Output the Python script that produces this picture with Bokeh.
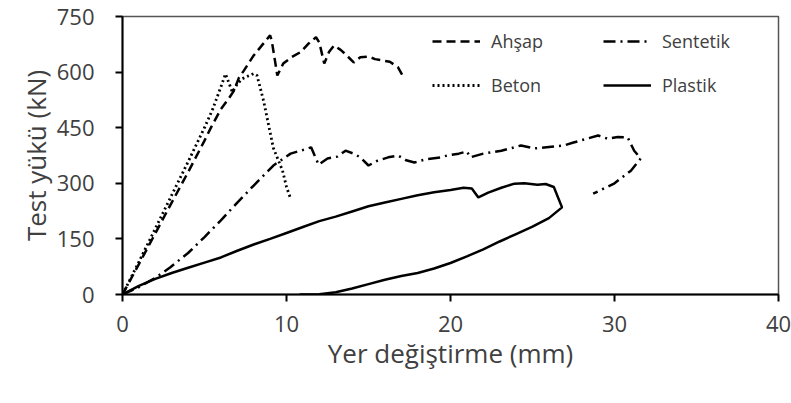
from bokeh.plotting import figure
from bokeh.models import Range1d, FixedTicker, Legend, LegendItem
from bokeh.embed import file_html
from bokeh.resources import INLINE

# ---- data ----
ahsap_x = [0, 1, 2, 3, 4, 5, 5.4, 6.0, 6.5, 6.8, 7.1, 7.4, 8.0, 8.5, 9.0, 9.1, 9.44, 9.8, 10.3, 10.86,
           11.3, 11.8, 12.0, 12.3, 12.6, 12.9, 13.3, 13.6, 14.1, 14.5, 15.0, 15.4, 15.9, 16.3, 16.8, 17.15]
ahsap_y = [0, 82, 165, 248, 330, 415, 451, 500, 530, 550, 585, 604, 645, 672, 699, 685, 591, 623, 640, 654,
           675, 694, 680, 623, 655, 672, 660, 648, 626, 640, 642, 635, 631, 628, 613, 585]

beton_x = [0, 1, 2, 3, 4, 5, 5.5, 6.0, 6.28, 6.7, 7.0, 7.3, 7.7, 8.0, 8.2, 8.6, 9.2, 9.76, 10.0, 10.25]
beton_y = [0, 88, 178, 268, 358, 450, 500, 560, 595, 546, 568, 582, 590, 596, 591, 523, 395, 334, 290, 259]

sentetik_x = [0, 1, 2, 2.9, 4, 5, 6, 7, 8, 9.2, 10.25, 11.0, 11.5, 11.96, 12.5, 13.1, 13.6, 14.1, 14.5,
              15.0, 15.5, 16.2, 16.8, 17.3, 17.8, 18.5, 19.4, 19.8, 20.5, 21.0, 21.2, 22.0, 23.1, 24.3,
              25.1, 26.0, 26.9, 27.5, 28.3, 29.0, 29.6, 30.2, 30.8, 31.2, 31.6, 31.0, 30.0, 28.7]
sentetik_y = [0, 20, 45, 73, 112, 155, 200, 248, 294, 348, 380, 390, 397, 350, 367, 372, 388, 380, 370,
              348, 360, 370, 375, 362, 356, 365, 370, 375, 380, 386, 370, 380, 388, 402,
              394, 398, 402, 410, 420, 429, 420, 425, 424, 388, 367, 334, 300, 272]

plastik_x = [0, 1, 2, 3, 4, 5, 6, 7, 8, 9, 10, 11, 12, 13, 14, 15, 16, 17, 18, 19, 20, 20.8, 21.3, 21.7,
             22.3, 23.1, 23.9, 24.5, 25.3, 25.8, 26.3, 26.8, 26.0, 25.0, 24.0, 23.0, 22.0, 21.0, 20.0,
             19.0, 18.0, 17.0, 16.0, 15.0, 14.0, 13.0, 12.0, 10.8]
plastik_y = [0, 23, 42, 58, 72, 86, 100, 118, 135, 150, 166, 182, 198, 210, 224, 238, 248, 258, 268, 276,
             282, 288, 286, 262, 275, 288, 299, 300, 296, 298, 290, 235, 206, 183, 163, 143, 122, 103, 85,
             70, 58, 50, 40, 28, 16, 6, 1, 0]

x_ticks = [0, 10, 20, 30, 40]
y_ticks = [0, 150, 300, 450, 600, 750]

FONT = "Open Sans"
TXT = "#404040"

p = figure(width=791, height=403, output_backend="svg", toolbar_location=None,
           x_range=Range1d(0, 40), y_range=Range1d(0, 750),
           min_border_left=122, min_border_right=13, min_border_top=16, min_border_bottom=109)

p.grid.visible = False
p.background_fill_color = "white"
p.border_fill_color = "white"
p.outline_line_color = "#555555"
p.outline_line_width = 1.5

for ax in (p.xaxis[0], p.yaxis[0]):
    ax.axis_line_color = "black"
    ax.axis_line_width = 2
    ax.major_tick_line_color = "black"
    ax.major_tick_line_width = 2
    ax.major_tick_out = 7
    ax.major_tick_in = 0
    ax.minor_tick_line_color = None
    ax.major_label_text_font = FONT
    ax.major_label_text_font_size = "22px"
    ax.major_label_text_color = TXT
    ax.axis_label_text_font = FONT
    ax.axis_label_text_font_size = "26px"
    ax.axis_label_text_color = TXT
    ax.axis_label_text_font_style = "normal"

p.xaxis.ticker = FixedTicker(ticks=x_ticks)
p.yaxis.ticker = FixedTicker(ticks=y_ticks)
p.xaxis.axis_label = "Yer değiştirme (mm)"
p.yaxis.axis_label = "Test yükü (kN)"
p.xaxis.major_label_standoff = 14
p.yaxis.major_label_standoff = 21
p.xaxis.axis_label_standoff = 0
p.yaxis.axis_label_standoff = 0

r_a = p.line(ahsap_x, ahsap_y, line_color="black", line_width=2.5, line_dash="9 5")
r_b = p.line(beton_x, beton_y, line_color="black", line_width=2.8, line_dash="2 3")
r_s = p.line(sentetik_x, sentetik_y, line_color="black", line_width=2.5, line_dash="12 5 2 5")
r_p = p.line(plastik_x, plastik_y, line_color="black", line_width=2.5)


def make_legend(items, loc):
    lg = Legend(items=items, location=loc, padding=0, margin=0, spacing=20,
                glyph_width=48, glyph_height=20, label_height=20, label_standoff=11,
                label_text_font=FONT, label_text_font_size="18px", label_text_color=TXT,
                border_line_color=None, background_fill_alpha=0)
    return lg


leg1 = make_legend([LegendItem(label="Ahşap", renderers=[r_a]),
                    LegendItem(label="Beton", renderers=[r_b])], (310, 197))
leg2 = make_legend([LegendItem(label="Sentetik", renderers=[r_s]),
                    LegendItem(label="Plastik", renderers=[r_p])], (481, 197))
p.add_layout(leg1, "center")
p.add_layout(leg2, "center")

open("out.html", "w").write(file_html(p, INLINE))
